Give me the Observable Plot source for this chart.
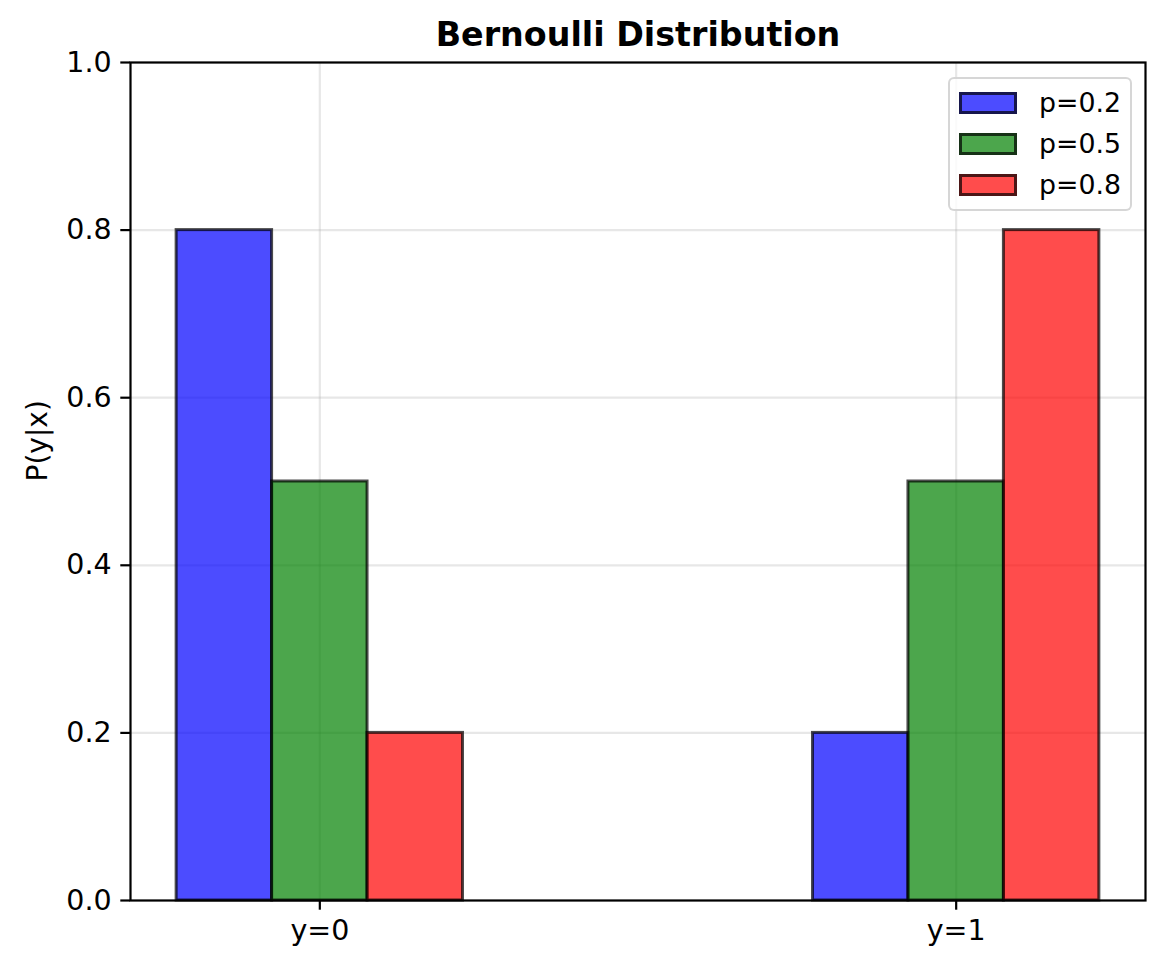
<!DOCTYPE html>
<html>
<head>
<meta charset="utf-8">
<script src="https://cdn.jsdelivr.net/npm/d3@7"></script>
<script src="https://cdn.jsdelivr.net/npm/@observablehq/plot@0.6"></script>
<style>
  html, body { margin: 0; padding: 0; background: #fff; }
  #wrap { position: relative; width: 1166px; height: 969px; font-family: "DejaVu Sans", sans-serif; }
  #legend { position: absolute; left: 948px; top: 77px; width: 184px; height: 134px; box-sizing: border-box;
            border: 2px solid rgba(204,204,204,0.8); border-radius: 6px; background: rgba(255,255,255,0.8); }
  .patch { position: absolute; width: 58px; height: 22px; box-sizing: border-box; border: 3px solid rgba(0,0,0,0.7); }
  .ltext { position: absolute; font-size: 26.8px; line-height: 30px; color: #000; }
</style>
</head>
<body>
<div id="wrap"></div>
<script>
// ---- data ----
const outcomes = ["y=0", "y=1"];
const outcomePos = [0, 1];
const pLabels = ["p=0.2", "p=0.5", "p=0.8"];
const pColors = ["blue", "green", "red"];
const probAtY0 = [0.8, 0.5, 0.2];
const probAtY1 = [0.2, 0.5, 0.8];
const yTicks = [0, 0.2, 0.4, 0.6, 0.8, 1.0];
const barWidth = 0.15;

const rows = [];
pLabels.forEach((s, i) => {
  [probAtY0[i], probAtY1[i]].forEach((v, j) => {
    const c = outcomePos[j] + (i - 1) * barWidth;
    rows.push({series: s, x1: c - barWidth / 2, x2: c + barWidth / 2, value: v});
  });
});

const chart = Plot.plot({
  width: 1166,
  height: 969,
  marginLeft: 130,
  marginRight: 21,
  marginTop: 62,
  marginBottom: 69,
  style: {fontFamily: "DejaVu Sans, sans-serif", fontSize: "28.5px", color: "black", background: "white"},
  x: {domain: [-0.2975, 1.2975]},
  y: {domain: [0, 1]},
  color: {domain: pLabels, range: pColors},
  marks: [
    Plot.gridY(yTicks, {stroke: "#b0b0b0", strokeOpacity: 0.3, strokeWidth: 2.2}),
    Plot.gridX(outcomePos, {stroke: "#b0b0b0", strokeOpacity: 0.3, strokeWidth: 2.2}),
    Plot.rectY(rows, {x1: "x1", x2: "x2", y1: 0, y2: "value", fill: "series", fillOpacity: 0.7,
                      stroke: "black", strokeOpacity: 0.7, strokeWidth: 3}),
    Plot.frame({stroke: "black", strokeWidth: 2.2}),
    Plot.axisY(yTicks, {tickSize: 9.7, tickPadding: 9.2, strokeWidth: 2.2, fontSize: 28.5,
                        tickFormat: d => d.toFixed(1), label: null}),
    Plot.axisX(outcomePos, {tickSize: 9.7, tickPadding: 9.2, strokeWidth: 2.2, fontSize: 28.5,
                            tickFormat: d => outcomes[outcomePos.indexOf(d)], label: null}),
    Plot.text(["Bernoulli Distribution"], {text: d => d, frameAnchor: "top", dy: -17, lineAnchor: "bottom",
                                           fontSize: 33.3, fontWeight: "bold"}),
    Plot.text(["P(y|x)"], {text: d => d, frameAnchor: "left", dx: -92, rotate: -90, fontSize: 28})
  ]
});

const wrap = document.getElementById("wrap");
wrap.appendChild(chart);

// legend
const legend = document.createElement("div");
legend.id = "legend";
wrap.appendChild(legend);
const rowCenters = [101, 142, 183];
pLabels.forEach((s, i) => {
  const p = document.createElement("div");
  p.className = "patch";
  p.style.left = (957 - 948) + "px";
  p.style.top = (rowCenters[i] - 11 - 77) + "px";
  const c = d3.color(pColors[i]); c.opacity = 0.7;
  p.style.background = c.toString();
  legend.appendChild(p);
  const t = document.createElement("div");
  t.className = "ltext";
  t.style.left = (1037 - 948) + "px";
  t.style.top = (rowCenters[i] - 15 - 77) + "px";
  t.textContent = s;
  legend.appendChild(t);
});
</script>
</body>
</html>
